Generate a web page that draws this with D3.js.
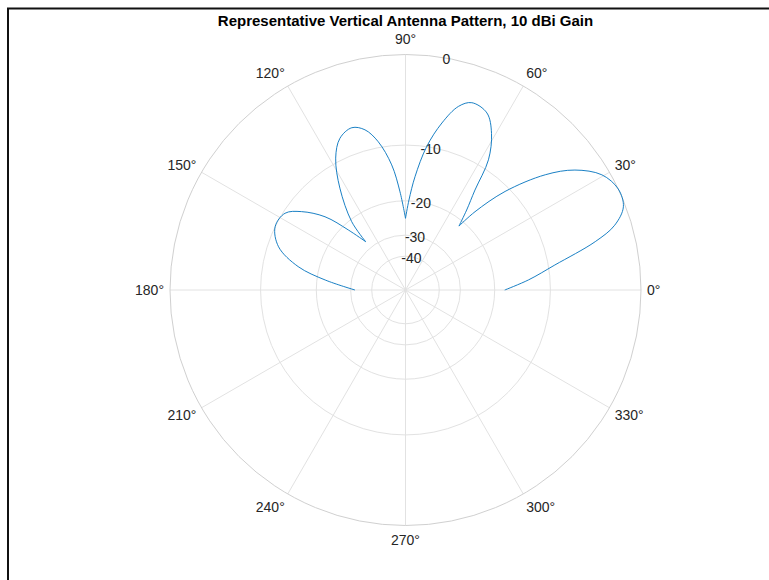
<!DOCTYPE html>
<html>
<head>
<meta charset="utf-8">
<script src="https://cdn.jsdelivr.net/npm/d3@7"></script>
<style>
	body { margin: 0; background: #fff; }
	svg { display: block; font-family: "Liberation Sans", Arial, sans-serif; }
	.grid { fill: none; stroke: #e2e2e2; stroke-width: 1; }
	.edge { fill: none; stroke: #d0d0d0; stroke-width: 1; }
	.pattern { fill: none; stroke: #0072bd; stroke-width: 0.9; }
	.tlabel, .rlabel { font-size: 14px; fill: #262626; }
	.graphtitle { font-size: 15px; font-weight: bold; fill: #000; }
</style>
</head>
<body>
<svg class="chartArea"></svg>
<script>
// Pattern: elevation angle (deg) and relative gain (dB)
var angleDeg = [0, 4.7, 9.5, 14.3, 17.2, 20.9, 25.4, 30.4, 35.3, 39.5, 44.7, 48.4, 50.1,
	52.6, 55.2, 57.5, 61.2, 65.3, 70.5, 73.9, 77.7, 81.6, 85.2, 87.8, 90,
	93.2, 96.3, 100.4, 104.2, 108.3, 113.4, 117.9, 122.8, 128.2, 129.5,
	133.6, 137.7, 143, 147.5, 154.1, 161.2, 167.7, 172.9, 180];
var gainDb = [-17.8, -13.3, -9.1, -3.8, -1.5, -0.2, 0, -0.7, -2.6, -5.4, -10.7, -16.7, -21.4,
	-17.5, -13.6, -8.7, -5.7, -3.9, -3.5, -4.3, -6.6, -10.0, -15.0, -19.8, -24.5,
	-18.0, -12.9, -9.2, -7.3, -6.6, -7.3, -9.4, -13.7, -20.5, -27.3,
	-21.5, -15.9, -12.2, -10.3, -10.0, -11.6, -15.7, -22.0, -31.7];
// nulls between lobes (the line has sharp cusps there)
var nullAngles = [50.1, 90, 129.5];

var thetaTicks = [0, 30, 60, 90, 120, 150, 180, 210, 240, 270, 300, 330];
var rTicks = [0, -10, -20, -30, -40];
var graphHeader = "Representative Vertical Antenna Pattern, 10 dBi Gain";

function drawGraph() {
	var width = 769, height = 580;
	var cx = 405.5, cy = 290, R = 235.5;
	var ringRatio = 1.625;   // radius ratio between 10 dB rings

	var svg = d3.select(".chartArea")
		.attr("width", width)
		.attr("height", height);

	// dB <-> radius: rings shrink geometrically toward the centre
	var rScale = d3.scaleLog()
		.domain([R / Math.pow(ringRatio, 4), R])
		.range([-40, 0]);
	var rad = function(db) { return rScale.invert(db); };
	var toRad = function(deg) { return deg * Math.PI / 180; };

	// frame (top and left edge only)
	svg.append("path")
		.attr("d", "M8,580V8.5H769")
		.attr("fill", "none")
		.attr("stroke", "#111")
		.attr("stroke-width", 2);

	var chart = svg.append("g")
		.attr("transform", "translate(" + cx + "," + cy + ")");

	// spokes
	chart.selectAll(".spoke")
		.data(thetaTicks)
	  .enter().append("line")
		.attr("class", "grid")
		.attr("x1", 0).attr("y1", 0)
		.attr("x2", function(d) { return R * Math.cos(toRad(d)); })
		.attr("y2", function(d) { return -R * Math.sin(toRad(d)); });

	// rings
	chart.selectAll(".ring")
		.data(rTicks.slice(1))
	  .enter().append("circle")
		.attr("class", "grid")
		.attr("r", function(d) { return rad(d); });

	chart.append("circle")
		.attr("class", "edge")
		.attr("r", rad(0));

	// angle labels
	chart.selectAll(".tlabel")
		.data(thetaTicks)
	  .enter().append("text")
		.attr("class", "tlabel")
		.attr("x", function(d) { return (R + 6) * Math.cos(toRad(d)); })
		.attr("y", function(d) { return -(R + 15) * Math.sin(toRad(d)); })
		.attr("dy", "0.35em")
		.attr("text-anchor", function(d) {
			var c = Math.cos(toRad(d));
			return c > 0.1 ? "start" : (c < -0.1 ? "end" : "middle");
		})
		.text(function(d) { return d + "\u00b0"; });

	// radial labels along 80 deg
	chart.selectAll(".rlabel")
		.data(rTicks)
	  .enter().append("text")
		.attr("class", "rlabel")
		.attr("x", function(d) { return rad(d) * Math.cos(toRad(80)); })
		.attr("y", function(d) { return -rad(d) * Math.sin(toRad(80)); })
		.attr("dy", "0.45em")
		.attr("text-anchor", "middle")
		.text(function(d) { return d; });

	// pattern, one piece per lobe so the nulls stay pointed
	var data = angleDeg.map(function(a, i) { return {a: a, db: gainDb[i]}; });
	var bounds = [0].concat(nullAngles, [180]);
	var lobes = [];
	for (var i = 0; i < bounds.length - 1; i++) {
		lobes.push(data.filter(function(d) { return d.a >= bounds[i] && d.a <= bounds[i + 1]; }));
	}

	var valueline = d3.lineRadial()
		.angle(function(d) { return Math.PI / 2 - toRad(d.a); })
		.radius(function(d) { return rad(d.db); })
		.curve(d3.curveCatmullRom.alpha(0.5));

	chart.selectAll(".pattern")
		.data(lobes)
	  .enter().append("path")
		.attr("class", "pattern")
		.attr("d", valueline);

	// title
	svg.append("text")
		.attr("class", "graphtitle")
		.attr("x", cx)
		.attr("y", 26)
		.attr("text-anchor", "middle")
		.text(graphHeader);
}

drawGraph();
</script>
</body>
</html>
